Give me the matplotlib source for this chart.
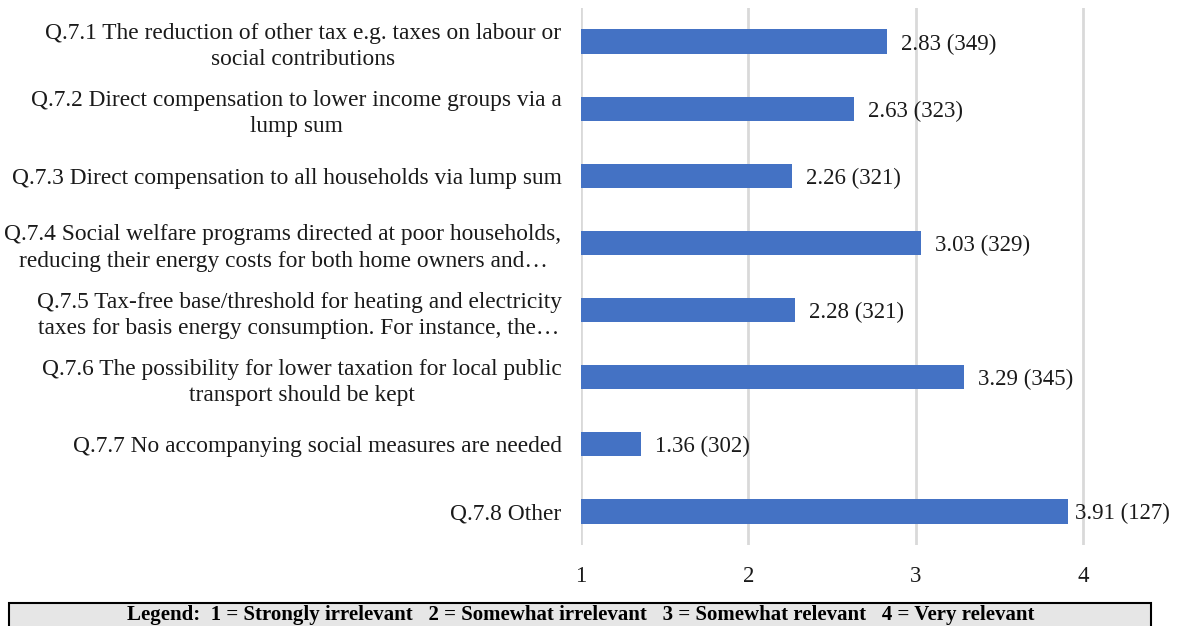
import matplotlib
matplotlib.use("Agg")
import matplotlib.pyplot as plt
from matplotlib.patches import Rectangle

plt.rcParams['font.family'] = ['Liberation Serif', 'DejaVu Serif']

# survey items, mean relevance score and number of answers
labels = [
    "Q.7.1 The reduction of other tax e.g. taxes on labour or\nsocial contributions",
    "Q.7.2 Direct compensation to lower income groups via a\nlump sum",
    "Q.7.3 Direct compensation to all households via lump sum",
    "Q.7.4 Social welfare programs directed at poor households,\nreducing their energy costs for both home owners and\u2026",
    "Q.7.5 Tax-free base/threshold for heating and electricity\ntaxes for basis energy consumption. For instance, the\u2026",
    "Q.7.6 The possibility for lower taxation for local public\ntransport should be kept",
    "Q.7.7 No accompanying social measures are needed",
    "Q.7.8 Other",
]
means = [2.83, 2.63, 2.26, 3.03, 2.28, 3.29, 1.36, 3.91]
counts = [349, 323, 321, 329, 321, 345, 302, 127]
ticks = [1, 2, 3, 4]

W, H = 1180, 626
fig = plt.figure(figsize=(W / 100, H / 100), dpi=100)
ax = fig.add_axes([581 / W, 1 - 545 / H, 586 / W, 537 / H])

ypos = list(range(len(labels)))
base = 1
ax.barh(ypos, [m - base for m in means], left=base, height=0.36,
        color="#4472C4", zorder=3)

for y, m, n in zip(ypos, means, counts):
    # the longest bar gets its label pulled in so it stays on the page
    pad = 10 if m < 3.8 else 5
    ax.annotate(f"{m:.2f} ({n})", xy=(m, y), xytext=(pad, 0),
                textcoords="offset points", va="center_baseline", ha="left",
                fontsize=16.5, color="#1a1a1a", zorder=4)

ax.set_xlim(1, 4.5)
ax.set_ylim(len(labels) - 0.5, -0.5)
ax.set_xticks(ticks)
ax.set_xticklabels([str(t) for t in ticks], fontsize=16.5)
ax.set_yticks(ypos)
ax.set_yticklabels(labels, fontsize=16.8, multialignment="center",
                   linespacing=1.32)
ax.tick_params(axis="x", length=0, pad=15, colors="#1a1a1a")
ax.tick_params(axis="y", length=0, pad=14, colors="#1a1a1a")
ax.xaxis.grid(True, color="#d9d9d9", linewidth=2, zorder=0)
for s in ax.spines.values():
    s.set_visible(False)

# legend strip along the bottom edge
fig.patches.append(Rectangle((9 / W, -0.05), 1142 / W, 0.05 + 1 - 603 / H,
                             transform=fig.transFigure, facecolor="#e6e6e6",
                             edgecolor="black", linewidth=1.5))
fig.text(581 / W, 1 - 615 / H,
         "Legend:  1 = Strongly irrelevant   2 = Somewhat irrelevant   "
         "3 = Somewhat relevant   4 = Very relevant",
         ha="center", va="center", fontsize=15, fontweight="bold")

fig.savefig("out.png", dpi=100)
